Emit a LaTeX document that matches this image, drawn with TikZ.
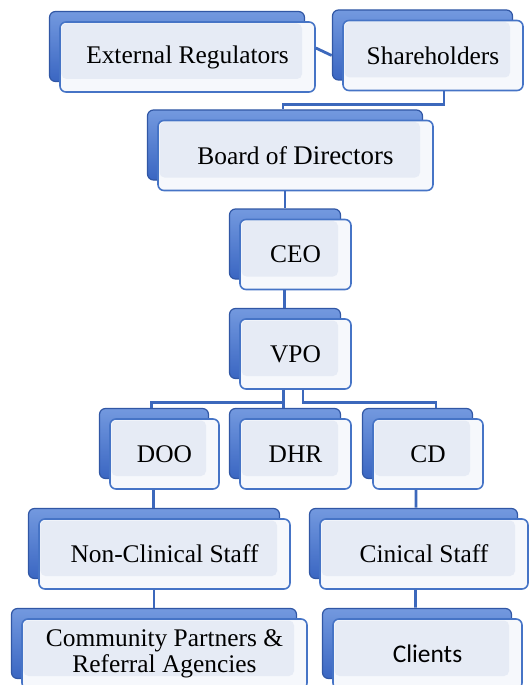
\documentclass[tikz,border=0pt]{standalone}
\usepackage{fontspec}
\setmainfont{Liberation Serif}
\newfontfamily\labelsans{Carlito}
\usetikzlibrary{shadows}

\definecolor{linkblue}{HTML}{3C68BC}
\definecolor{backtop}{HTML}{7399DF}
\definecolor{backbot}{HTML}{3A66C2}
\definecolor{frontfill}{HTML}{F6F8FC}
\definecolor{frontinner}{HTML}{E6EBF5}
\definecolor{frontedge}{HTML}{4674C6}

\tikzset{
  unitbox/.style={rectangle, rounded corners=6bp, draw=frontedge, line width=1.6bp,
    fill=frontfill, minimum height=70bp, inner sep=0pt, align=center,
    font=\fontsize{25.5}{26}\selectfont,
    copy shadow={shadow xshift=-10.5bp, shadow yshift=10.5bp, opacity=1,
      top color=backtop, bottom color=backbot, draw=backbot!85!black, line width=1.2bp},
    path picture={\fill[frontinner, rounded corners=5bp]
      ([xshift=1.5bp,yshift=-1.5bp]path picture bounding box.north west) rectangle
      ([xshift=-13bp,yshift=13bp]path picture bounding box.south east);}},
  link/.style={draw=linkblue, line width=2.8bp}
}

\begin{document}
\begin{tikzpicture}[x=1bp, y=-1bp]
\useasboundingbox (0,0) rectangle (530,685);

% organisation units
\node[unitbox, minimum width=255bp] (ext)   at (187.5,57)   {External Regulators};
\node[unitbox, minimum width=180bp] (sh)    at (433,55.5)   {Shareholders};
\node[unitbox, minimum width=275bp] (board) at (295.5,155.5) {Board of {\fontsize{27}{27}\selectfont Directors}};
\node[unitbox, minimum width=111bp] (ceo)   at (295.5,254.5) {CEO};
\node[unitbox, minimum width=111bp] (vpo)   at (295.5,354)  {VPO};
\node[unitbox, minimum width=109bp] (doo)   at (164.5,454)  {DOO};
\node[unitbox, minimum width=111bp] (dhr)   at (295.5,454)  {DHR};
\node[unitbox, minimum width=110bp] (cd)    at (428,454)    {CD};
\node[unitbox, minimum width=251bp] (ncs)   at (164.5,554)  {Non-Clinical Staff};
\node[unitbox, minimum width=208bp] (cs)    at (424,554)    {Cinical Staff};
\node[unitbox, minimum width=285bp] (comm)  at (164.5,654)  {Community Partners \&\\Referral Agencies};
\node[unitbox, minimum width=189bp] (cli)   at (427.5,654)  {\labelsans Clients};

% reporting lines
\draw[link] ([yshift=9bp]ext.east) -- ([xshift=-10.5bp]sh.west);
\draw[link] ([xshift=11bp]sh.south) -- ++(0,13) -| ([xshift=-12.5bp,yshift=10.5bp]board.north);
\draw[link] ([xshift=-10.5bp]board.south) -- ([xshift=-10.5bp,yshift=10.5bp]ceo.north);
\draw[link] ([xshift=-11bp]ceo.south) -- ([xshift=-11bp,yshift=10.5bp]vpo.north);
\draw[link] ([xshift=-12bp]vpo.south) -- ++(0,13) -| ([xshift=-13bp,yshift=10.5bp]doo.north);
\draw[link] ([xshift=-12bp]vpo.south) -- ([xshift=-12bp,yshift=10.5bp]dhr.north);
\draw[link] ([xshift=7.5bp]vpo.south) -- ++(0,13) -| ([xshift=8bp,yshift=10.5bp]cd.north);
\draw[link] ([xshift=-11bp]doo.south) -- ([xshift=-11bp,yshift=10.5bp]ncs.north);
\draw[link] ([xshift=-12bp]cd.south) -- ([xshift=-8bp,yshift=10.5bp]cs.north);
\draw[link] ([xshift=-10.5bp]ncs.south) -- ([xshift=-10.5bp,yshift=10.5bp]comm.north);
\draw[link] ([xshift=-8.5bp]cs.south) -- ([xshift=-12bp,yshift=10.5bp]cli.north);
\end{tikzpicture}
\end{document}
